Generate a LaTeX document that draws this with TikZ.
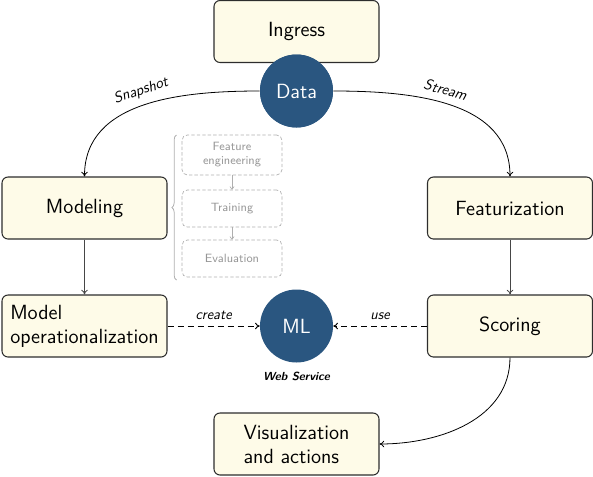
\documentclass[tikz,border=0pt]{standalone}
\usepackage{fontspec}
\usetikzlibrary{decorations.pathreplacing,arrows.meta}
\definecolor{boxfill}{RGB}{254,251,232}
\definecolor{boxline}{RGB}{45,45,45}
\definecolor{circfill}{RGB}{42,86,128}
\definecolor{gline}{RGB}{175,175,175}
\definecolor{gtext}{RGB}{150,150,150}
\definecolor{arrline}{RGB}{70,70,70}
\begin{document}
\begin{tikzpicture}[x=0.75pt,y=-0.75pt,
  box/.style={draw=boxline, fill=boxfill, rounded corners=4.5pt, line width=0.8pt,
    minimum width=123.75pt, minimum height=46.5pt, align=left, inner sep=2pt,
    font=\sffamily\fontsize{15.4}{18}\selectfont},
  circ/.style={circle, fill=circfill, minimum size=54.75pt, inner sep=0pt, text=white,
    font=\sffamily\fontsize{15.4}{18}\selectfont},
  gbox/.style={draw=gline, dashed, dash pattern=on 2.5pt off 1.6pt, rounded corners=4pt,
    minimum width=75pt, minimum height=27.75pt, text=gtext, align=center, inner sep=1pt,
    font=\sffamily\fontsize{9}{10.5}\selectfont, line width=0.5pt},
  lab/.style={font=\sffamily\itshape\fontsize{11}{13}\selectfont},
  slab/.style={font=\sffamily\itshape\fontsize{11.3}{13}\selectfont\addfontfeature{LetterSpace=7}},
  conn/.style={-{To[length=3.5pt,width=5pt]}, line width=0.6pt},
  dconn/.style={-{To[length=3.5pt,width=5pt]}, line width=0.7pt, dash pattern=on 4.5pt off 3pt},
]
\useasboundingbox (0,0) rectangle (593,476);

% boxes
\node[box] (ingress) at (296.5,31.5) {Ingress};
\node[box] (modeling) at (84.5,208) {Modeling};
\node[box] (feat) at (510,208) {Featurization};
\node[box] (modelop) at (84.5,326) {Model\\operationalization};
\node[box] (scoring) at (510,326) {Scoring};
\node[box] (vis) at (296.5,444) {Visualization\\and actions};

% circles
\node[circ] (data) at (296.5,91) {Data};
\node[circ] (ml) at (296.5,326) {ML};
\node[font=\sffamily\bfseries\itshape\fontsize{8.8}{10}\selectfont] (ws) at (296.5,376) {Web Service};

% gray steps
\node[gbox, minimum height=30pt] (fe) at (232,155) {Feature\\engineering};
\node[gbox] (tr) at (232,208.5) {Training};
\node[gbox] (ev) at (232,258.5) {Evaluation};
\draw[-{To[length=2.5pt,width=3.5pt]}, gline, line width=0.5pt] (fe) -- (tr);
\draw[-{To[length=2.5pt,width=3.5pt]}, gline, line width=0.5pt] (tr) -- (ev);
\coordinate (bb) at (176.5,280);
\coordinate (bt) at (176.5,135);
\draw[decorate, decoration={brace, amplitude=3.5pt}, gline, line width=0.6pt] (bb) -- (bt);

% connectors
\draw[{To[length=3.5pt,width=5pt]}-, line width=0.6pt] (modeling.north) to[out=90,in=180]
  node[slab, sloped, above=2pt, pos=0.51] {Snapshot} (data.west);
\draw[conn] (data.east) to[out=0,in=90]
  node[slab, sloped, above=2pt, pos=0.46] {Stream} (feat.north);
\draw[conn, arrline] (modeling) -- (modelop);
\draw[conn, arrline] (feat) -- (scoring);
\draw[dconn] (modelop) -- node[lab, above=1pt] {create} (ml);
\draw[dconn] (scoring) -- node[lab, above=1pt] {use} (ml);
\draw[conn] (scoring.south) to[out=-90,in=0] (vis.east);

% redraw circle on top of lines
\node[circ] at (data) {Data};
\end{tikzpicture}
\end{document}
